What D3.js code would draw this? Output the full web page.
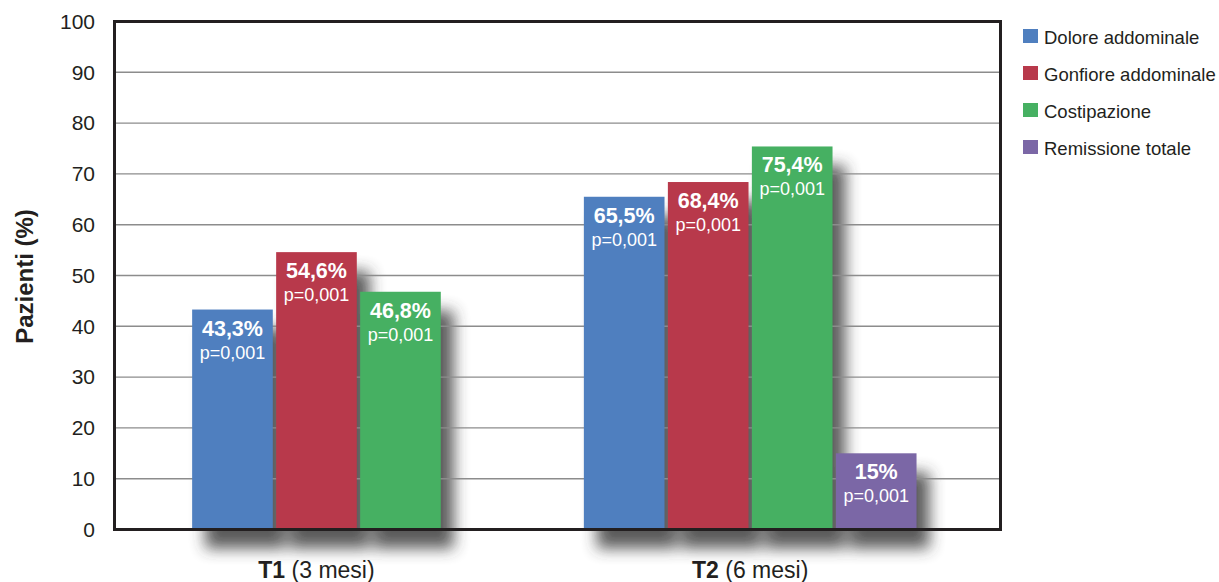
<!DOCTYPE html>
<html>
<head>
<meta charset="utf-8">
<script src="https://cdn.jsdelivr.net/npm/d3@7"></script>
<style>
  html, body { margin: 0; padding: 0; background: #fff; }
  svg { display: block; font-family: "Liberation Sans", Arial, Helvetica, sans-serif; }
</style>
</head>
<body>
<svg id="chart" width="1219" height="582"></svg>
<script>
// Time points (group label parts) and symptom series
const groups = ["T1", "T2"];
const groupBold = ["T1", "T2"];
const groupRest = [" (3 mesi)", " (6 mesi)"];
const series = ["Dolore addominale", "Gonfiore addominale", "Costipazione", "Remissione totale"];
const seriesColors = ["#4f7fbf", "#b8394b", "#46b062", "#7b67a6"];

// Percent of patients per series at each time point (null = not measured)
const valuesT1 = [43.3, 54.6, 46.8, null];
const valuesT2 = [65.5, 68.4, 75.4, 15];
const valueLabelsT1 = ["43,3%", "54,6%", "46,8%", null];
const valueLabelsT2 = ["65,5%", "68,4%", "75,4%", "15%"];
const pLabel = "p=0,001";

const yTicks = [0, 10, 20, 30, 40, 50, 60, 70, 80, 90, 100];
const yTitle = "Pazienti (%)";

const svg = d3.select("#chart");
const plotLeft = 114.5, plotRight = 1000.5, plotTop = 21.5, plotBottom = 529.5;

const y = d3.scaleLinear().domain([0, 100]).range([plotBottom, plotTop]);
const x0 = d3.scaleBand().domain(groups).range([plotLeft, plotRight])
  .paddingInner(0.1422).paddingOuter(0.202).align(0.48);
const x1 = d3.scaleBand().domain(series).range([0, x0.bandwidth()])
  .paddingInner(0.04).paddingOuter(0.02);

const rows = [];
[valuesT1, valuesT2].forEach((vals, gi) => {
  vals.forEach((v, si) => {
    if (v == null) return;
    rows.push({
      group: groups[gi], series: series[si], value: v,
      label: (gi === 0 ? valueLabelsT1 : valueLabelsT2)[si],
      color: seriesColors[si]
    });
  });
});
const barX = d => x0(d.group) + x1(d.series);

// Soft drop shadow cast by the bars
const defs = svg.append("defs");
const f = defs.append("filter").attr("id", "barShadow")
  .attr("x", "-50%").attr("y", "-50%").attr("width", "200%").attr("height", "200%");
f.append("feGaussianBlur").attr("in", "SourceAlpha").attr("stdDeviation", 7.5).attr("result", "b");
f.append("feOffset").attr("in", "b").attr("dx", 13).attr("dy", 19).attr("result", "o");
f.append("feFlood").attr("flood-color", "#333").attr("result", "c");
f.append("feComposite").attr("in", "c").attr("in2", "o").attr("operator", "in").attr("result", "s");
const ct = f.append("feComponentTransfer").attr("in", "s");
ct.append("feFuncA").attr("type", "linear").attr("slope", 0.8);

svg.append("g").attr("filter", "url(#barShadow)")
  .selectAll("rect").data(rows).join("rect")
  .attr("x", barX).attr("y", d => y(d.value))
  .attr("width", x1.bandwidth()).attr("height", d => y(0) - y(d.value))
  .attr("fill", "#333");

// Horizontal gridlines
svg.append("g").selectAll("line").data(yTicks.filter(t => t > 0 && t < 100)).join("line")
  .attr("x1", plotLeft).attr("x2", plotRight)
  .attr("y1", d => y(d)).attr("y2", d => y(d))
  .attr("stroke", "#8c8c8c").attr("stroke-width", 1.4);

// Y axis tick labels
const yAxis = d3.axisLeft(y).tickValues(yTicks).tickSize(0).tickPadding(19.5).tickFormat(d3.format("d"));
const ya = svg.append("g").attr("transform", `translate(${plotLeft},0)`).call(yAxis);
ya.select(".domain").remove();
ya.selectAll("text").attr("font-size", 21).attr("fill", "#231f20")
  .attr("font-family", "Liberation Sans, Arial, sans-serif");

// Bars
svg.append("g").selectAll("rect").data(rows).join("rect")
  .attr("x", barX).attr("y", d => y(d.value))
  .attr("width", x1.bandwidth()).attr("height", d => y(0) - y(d.value))
  .attr("fill", d => d.color);

// Value and p labels inside bar tops
const lab = svg.append("g").attr("fill", "#fff").attr("text-anchor", "middle");
lab.selectAll("text.v").data(rows).join("text").attr("class", "v")
  .attr("x", d => barX(d) + x1.bandwidth() / 2).attr("y", d => y(d.value) + 26)
  .attr("font-size", 21.5).attr("font-weight", "bold").text(d => d.label);
lab.selectAll("text.p").data(rows).join("text").attr("class", "p")
  .attr("x", d => barX(d) + x1.bandwidth() / 2).attr("y", d => y(d.value) + 49)
  .attr("font-size", 18).text(pLabel);

// Plot frame
svg.append("rect").attr("x", plotLeft).attr("y", plotTop)
  .attr("width", plotRight - plotLeft).attr("height", plotBottom - plotTop)
  .attr("fill", "none").attr("stroke", "#231f20").attr("stroke-width", 3);

// Group labels centred under the drawn bars
groups.forEach((g, gi) => {
  const gb = rows.filter(r => r.group === g);
  const cx = (d3.min(gb, barX) + d3.max(gb, barX) + x1.bandwidth()) / 2;
  const t = svg.append("text").attr("x", cx).attr("y", 578)
    .attr("text-anchor", "middle").attr("font-size", 23).attr("fill", "#231f20");
  t.append("tspan").attr("font-weight", "bold").text(groupBold[gi]);
  t.append("tspan").text(groupRest[gi]);
});

// Y axis title
svg.append("text").attr("transform", "translate(33,276.5) rotate(-90)")
  .attr("text-anchor", "middle").attr("font-size", 24).attr("font-weight", "bold")
  .attr("fill", "#231f20").text(yTitle);

// Legend
const lg = svg.append("g").attr("transform", "translate(1023,29)");
const li = lg.selectAll("g").data(series).join("g")
  .attr("transform", (d, i) => `translate(0,${i * 37})`);
li.append("rect").attr("width", 15).attr("height", 14).attr("fill", (d, i) => seriesColors[i]);
li.append("text").attr("x", 21).attr("y", 15).attr("font-size", 18.5)
  .attr("fill", "#231f20").text(d => d);
</script>
</body>
</html>
